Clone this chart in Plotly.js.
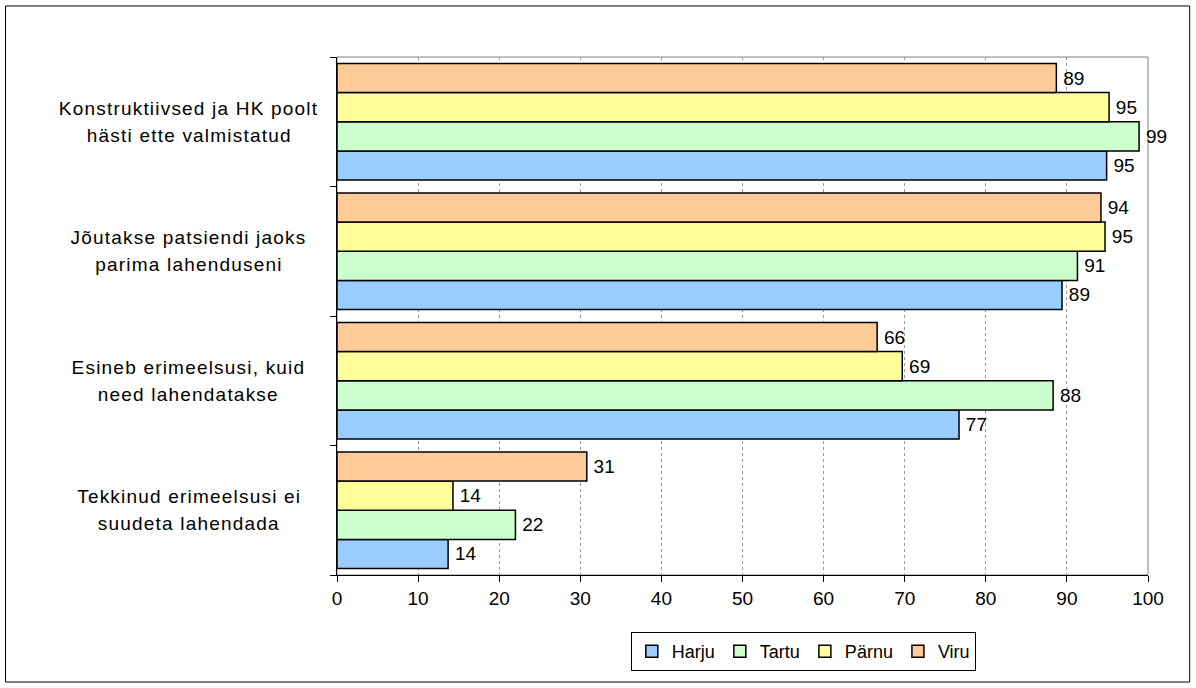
<!DOCTYPE html>
<html>
<head>
<meta charset="utf-8">
<script src="https://cdn.plot.ly/plotly-3.0.1.min.js"></script>
<style>
html,body{margin:0;padding:0;background:#fff;}
#chart{width:1196px;height:688px;}
#chart .annotation-text{letter-spacing:1.2px;}
</style>
</head>
<body>
<div id="chart"></div>
<script>
const categories = [
  "Konstruktiivsed ja HK poolt<br>hästi ette valmistatud",
  "Jõutakse patsiendi jaoks<br>parima lahenduseni",
  "Esineb erimeelsusi, kuid<br>need lahendatakse",
  "Tekkinud erimeelsusi ei<br>suudeta lahendada"
];
const seriesNames = ["Harju", "Tartu", "Pärnu", "Viru"];
const harju = [94.9, 89.4, 76.7, 13.7];
const tartu = [98.9, 91.3, 88.3, 22.0];
const parnu = [95.2, 94.7, 69.7, 14.3];
const viru  = [88.7, 94.2, 66.6, 30.8];
const harjuLabels = ["95", "89", "77", "14"];
const tartuLabels = ["99", "91", "88", "22"];
const parnuLabels = ["95", "95", "69", "14"];
const viruLabels  = ["89", "94", "66", "31"];
const xTicks = [0, 10, 20, 30, 40, 50, 60, 70, 80, 90, 100];

const colors = ["#99CCFF", "#CCFFCC", "#FFFF99", "#FFCC99"];
const values = [harju, tartu, parnu, viru];
const labels = [harjuLabels, tartuLabels, parnuLabels, viruLabels];
const FONT = "Liberation Sans, Arial, sans-serif";

const traces = seriesNames.map((name, i) => ({
  type: "bar",
  orientation: "h",
  name: name,
  x: values[i],
  y: categories,
  text: labels[i].map(t => "\u2009" + t),
  textposition: "outside",
  constraintext: "none",
  cliponaxis: false,
  textfont: {family: FONT, size: 19, color: "#000"},
  marker: {color: colors[i], line: {color: "#000", width: 1.5}},
  hoverinfo: "x+name"
}));

const annotations = [];
categories.forEach(c => {
  const lines = c.split("<br>");
  lines.forEach((ln, k) => {
    annotations.push({
      text: ln,
      xref: "paper", yref: "y",
      x: -0.183, y: c,
      xanchor: "center", yanchor: "middle",
      yshift: k === 0 ? 13.65 : -13.65,
      align: "center",
      showarrow: false,
      font: {family: FONT, size: 19, color: "#000"}
    });
  });
});

const layout = {
  width: 1196, height: 688,
  margin: {l: 337, r: 48, t: 57, b: 113},
  paper_bgcolor: "#fff", plot_bgcolor: "#fff",
  font: {family: FONT, size: 19, color: "#000"},
  barmode: "group",
  bargap: 0.1,
  bargroupgap: 0,
  showlegend: true,
  legend: {
    orientation: "h",
    traceorder: "normal",
    x: 0.575, xanchor: "center",
    y: -0.11, yanchor: "top",
    bgcolor: "#fff", bordercolor: "#000", borderwidth: 1,
    font: {family: FONT, size: 18, color: "#000"}
  },
  xaxis: {
    range: [0, 100],
    tickvals: xTicks,
    ticktext: xTicks.map(String),
    ticks: "outside", ticklen: 6, tickcolor: "#000", tickwidth: 1,
    showline: true, linecolor: "#000", linewidth: 1,
    showgrid: true, gridcolor: "#9a9a9a", griddash: "dot", gridwidth: 1,
    zeroline: false,
    tickfont: {family: FONT, size: 19, color: "#000"},
    fixedrange: true
  },
  yaxis: {
    type: "category",
    categoryorder: "array",
    categoryarray: categories.slice().reverse(),
    showticklabels: false,
    ticks: "outside", ticklen: 6, tickcolor: "#000", tickwidth: 1,
    tickson: "boundaries",
    showline: true, linecolor: "#000", linewidth: 1,
    showgrid: false, zeroline: false,
    fixedrange: true
  },
  annotations: annotations,
  shapes: [
    {type: "rect", xref: "paper", yref: "paper", x0: 0, x1: 1, y0: 0, y1: 1,
     line: {color: "#808080", width: 1}, layer: "below"},
    {type: "rect", xref: "paper", yref: "paper",
     x0: -0.4087, x1: 1.0514, y0: -0.2066, y1: 1.0985,
     line: {color: "#000", width: 1}, layer: "below"}
  ]
};

Plotly.newPlot("chart", traces, layout, {displayModeBar: false, staticPlot: true});
</script>
</body>
</html>
